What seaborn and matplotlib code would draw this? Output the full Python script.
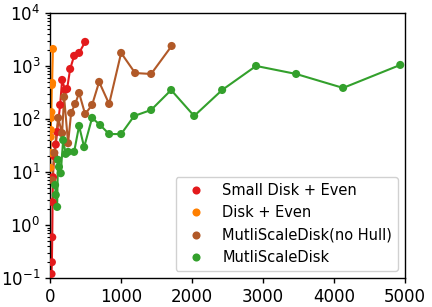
import pandas as pd
import matplotlib
matplotlib.use("Agg")
import matplotlib.pyplot as plt
from matplotlib.ticker import LogLocator, NullFormatter
import seaborn as sns

# data
small_x = [20, 25, 30, 35, 40, 55, 80, 99, 141, 169, 211, 239, 282, 338, 408, 493]
small_y = [0.12, 0.2, 0.59, 2.7, 8, 20, 33, 57, 184, 545, 352, 368, 877, 1550, 1760, 2840]

disk_x = [3, 5, 8, 10, 14, 18, 25, 28, 40]
disk_y = [12, 23, 46, 62, 105, 135, 437, 480, 2090]

nohull_x = [30, 60, 113, 169, 197, 253, 296, 352, 408, 493, 591, 690, 831,
            1000, 1197, 1422, 1711]
nohull_y = [7, 23, 105, 54, 260, 35, 130, 192, 309, 124, 184, 500, 192,
            1760, 735, 706, 2380]

multi_x = [70, 80, 99, 110, 125, 150, 183, 220, 253, 338, 408, 479, 591, 704,
           831, 1000, 1183, 1422, 1704, 2028, 2422, 2900, 3464, 4125, 4930]
multi_y = [5.7, 3.7, 2.2, 17, 12.5, 9.5, 40, 22, 24, 24, 74, 29.5, 105, 77,
           52, 52, 114, 148, 352, 114, 352, 1000, 706, 385, 1045]

labels = ["Small Disk + Even", "Disk + Even", "MutliScaleDisk(no Hull)", "MutliScaleDisk"]
colors = ["#e31a1c", "#ff7f00", "#b15928", "#33a02c"]

frames = []
for lab, xs, ys in zip(labels, [small_x, disk_x, nohull_x, multi_x],
                       [small_y, disk_y, nohull_y, multi_y]):
    frames.append(pd.DataFrame({"x": xs, "y": ys, "method": lab}))
df = pd.concat(frames, ignore_index=True)

sns.set_style("ticks")
plt.rcParams["font.family"] = ["DejaVu Sans"]
plt.rcParams["text.color"] = "black"

fig = plt.figure(figsize=(4.32, 3.07), dpi=100)
ax = fig.add_axes([0.116, 0.094, 0.822, 0.864])

palette = dict(zip(labels, colors))
sns.lineplot(data=df, x="x", y="y", hue="method", palette=palette, sort=False,
             estimator=None, units="method", legend=False, lw=1.5, ax=ax)
sns.scatterplot(data=df, x="x", y="y", hue="method", palette=palette,
                s=34, edgecolor="none", ax=ax, zorder=3)

ax.set_yscale("log")
ax.set_ylim(0.1, 1e4)
ax.set_xlim(0, 5000)
ax.set_xticks([0, 1000, 2000, 3000, 4000, 5000])
ax.yaxis.set_minor_locator(LogLocator(base=10, subs=range(2, 10), numticks=20))
ax.yaxis.set_minor_formatter(NullFormatter())
ax.set_xlabel("")
ax.set_ylabel("")
ax.tick_params(labelsize=12, length=3.5, width=1, color="black", labelcolor="black")
ax.tick_params(axis="y", which="minor", length=2, width=0.8, color="black")
for s in ax.spines.values():
    s.set_color("black")
    s.set_linewidth(1)

leg = ax.legend(loc="lower right", fontsize=10.5, framealpha=0.9)
for t in leg.get_texts():
    t.set_color("black")

fig.savefig("out.png", dpi=100)
